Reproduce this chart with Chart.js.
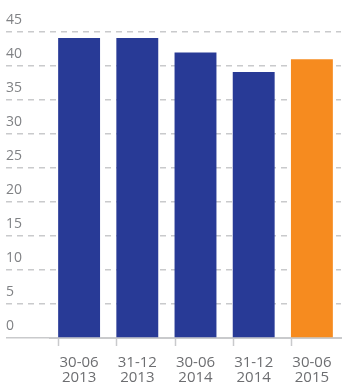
<!doctype html>
<html lang="es">
<head>
    <meta charset="utf-8">
    <title>Chart</title>
    <style>
        html, body { margin: 0; padding: 0; background: #fff; }
        #container { width: 345px; height: 383px; }
    </style>
</head>
<body>
    <div id="container"><canvas id="chart"></canvas></div>

    <script src="https://cdn.jsdelivr.net/npm/chart.js@4/dist/chart.umd.min.js"></script>
    <script>
        const LABELS = [["30-06", "2013"], ["31-12", "2013"], ["30-06", "2014"], ["31-12", "2014"], ["30-06", "2015"]];
        const VALUES = [44.1, 44.1, 42.0, 39.1, 41.0];
        const COLORS = ["#283a96", "#283a96", "#283a96", "#283a96", "#f68b1f"];
        const Y_MAX = 45;
        const Y_STEP = 5;

        const GRID = "#c9cacc";
        const FONT = "'Open Sans', sans-serif";

        // small tick marks under the left edge of each bar
        const barTicks = {
            id: "barTicks",
            afterDraw: chart => {
                const ctx = chart.ctx;
                const meta = chart.getDatasetMeta(0);
                const bottom = chart.chartArea.bottom;
                ctx.save();
                ctx.strokeStyle = GRID;
                ctx.lineWidth = 1.5;
                meta.data.forEach(bar => {
                    const x = Math.round(bar.x - bar.width / 2) + 0.5;
                    ctx.beginPath();
                    ctx.moveTo(x, bottom);
                    ctx.lineTo(x, bottom + 8);
                    ctx.stroke();
                });
                ctx.restore();
            }
        };

        const config = {
            type: "bar",
            data: {
                labels: LABELS,
                datasets: [{
                    data: VALUES,
                    backgroundColor: COLORS,
                    barPercentage: 0.72,
                    categoryPercentage: 1
                }]
            },
            options: {
                responsive: true,
                maintainAspectRatio: false,
                animation: false,
                layout: {
                    padding: { top: 32, left: 6, right: 4, bottom: 0 }
                },
                scales: {
                    x: {
                        afterFit: scale => {
                            scale.height = 45;
                            scale.paddingLeft = 0;
                            scale.paddingRight = 0;
                        },
                        grid: { display: false, drawTicks: false },
                        border: { display: true, color: GRID, width: 2 },
                        ticks: {
                            padding: 17,
                            color: "#6d6e71",
                            maxRotation: 0,
                            font: { family: FONT, size: 15, lineHeight: 1.03 }
                        }
                    },
                    y: {
                        min: 0,
                        max: Y_MAX,
                        afterFit: scale => { scale.width = 44; },
                        grid: {
                            color: GRID,
                            lineWidth: 1.5,
                            tickLength: 44,
                            tickColor: GRID,
                            tickWidth: 1.5,
                            tickBorderDash: ctx => ctx.tick && ctx.tick.value === 0 ? [] : [6, 5]
                        },
                        border: { display: false, dash: [6, 5] },
                        ticks: {
                            stepSize: Y_STEP,
                            crossAlign: "far",
                            labelOffset: -12,
                            padding: 0,
                            color: "#808285",
                            font: { family: FONT, size: 14 }
                        }
                    }
                },
                plugins: {
                    legend: { display: false },
                    tooltip: { enabled: false }
                }
            },
            plugins: [barTicks]
        };
        const chart = new Chart("chart", config);
    </script>
</body>
</html>
